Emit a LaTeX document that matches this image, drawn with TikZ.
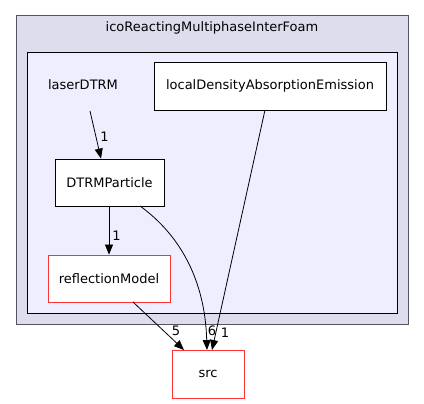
\documentclass[tikz,border=0pt]{standalone}
\usepackage{fontspec}
\setmainfont{DejaVu Sans}
\usetikzlibrary{arrows.meta}
\definecolor{outerfill}{HTML}{DDDDEE}
\definecolor{outerdraw}{HTML}{555560}
\definecolor{innerfill}{HTML}{EEEEFF}
\definecolor{redb}{HTML}{FF3333}
\begin{document}
\begin{tikzpicture}[x=1pt,y=-1pt,
  every node/.style={font=\fontsize{13}{15}\selectfont, inner sep=0pt},
  box/.style={draw=black, fill=white, line width=0.8pt},
  redbox/.style={draw=redb, fill=white, line width=0.8pt},
  edge/.style={draw=black, line width=0.8pt, -{Triangle[length=10pt,width=8pt]}},
  lbl/.style={font=\fontsize{13}{15}\selectfont}]
\useasboundingbox (0,0) rectangle (424,404);
\fill[white] (0,0) rectangle (424,404);
\draw[fill=outerfill, draw=outerdraw, line width=1pt] (16,16) rectangle (408,324);
\node (title) at (212,28) {icoReactingMultiphaseInterFoam};
\draw[fill=innerfill, draw=black, line width=0.8pt] (27,52) rectangle (397,313);
\node (laser) at (83,85) {laserDTRM};
\coordinate (laserout) at (90,111);
\node[box, minimum width=232pt, minimum height=48pt] (local) at (270,86) {localDensityAbsorptionEmission};
\node[box, minimum width=109pt, minimum height=47pt] (dtrm) at (109.5,182.5) {DTRMParticle};
\node[redbox, minimum width=122pt, minimum height=47pt] (refl) at (109,278.5) {reflectionModel};
\node[redbox, minimum width=72pt, minimum height=48pt] (src) at (208,374) {src};
\draw[edge] (laserout) -- (dtrm.north -| 101,0) coordinate (dt1);
\node[lbl] at (104.5,137) {1};
\draw[edge] (109,206) -- (refl.north -| 109,0);
\node[lbl] at (116.5,236) {1};
\draw[edge] (140,206) .. controls (180,235) and (205,280) .. (207,350);
\node[lbl] at (212,331) {6};
\draw[edge] (265,110) -- (212,350);
\node[lbl] at (225,333) {1};
\draw[edge] (133,302) -- (184,350);
\node[lbl] at (176,331) {5};
\end{tikzpicture}
\end{document}
